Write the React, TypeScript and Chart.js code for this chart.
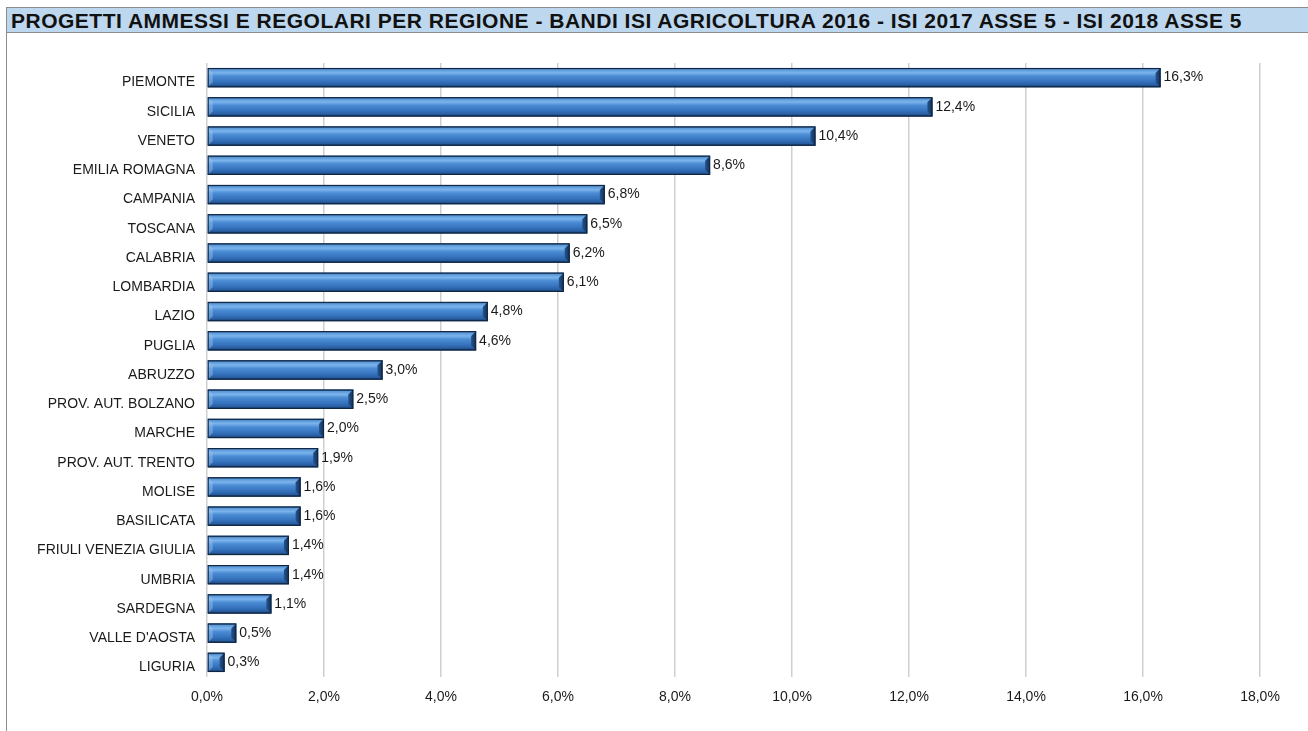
import React, { useEffect, useRef } from "react";
import { Chart, registerables } from "chart.js";

Chart.register(...registerables);

const chartTitle =
  "PROGETTI AMMESSI E REGOLARI PER REGIONE - BANDI ISI AGRICOLTURA 2016 - ISI 2017 ASSE 5 - ISI 2018 ASSE 5";

const regions = [
  "PIEMONTE",
  "SICILIA",
  "VENETO",
  "EMILIA ROMAGNA",
  "CAMPANIA",
  "TOSCANA",
  "CALABRIA",
  "LOMBARDIA",
  "LAZIO",
  "PUGLIA",
  "ABRUZZO",
  "PROV. AUT. BOLZANO",
  "MARCHE",
  "PROV. AUT. TRENTO",
  "MOLISE",
  "BASILICATA",
  "FRIULI VENEZIA GIULIA",
  "UMBRIA",
  "SARDEGNA",
  "VALLE D'AOSTA",
  "LIGURIA",
];

const shares = [
  16.3, 12.4, 10.4, 8.6, 6.8, 6.5, 6.2, 6.1, 4.8, 4.6, 3.0, 2.5, 2.0, 1.9, 1.6,
  1.6, 1.4, 1.4, 1.1, 0.5, 0.3,
];

const axisMin = 0;
const axisMax = 18;
const axisStep = 2;

const FONT = "'Liberation Sans', Arial, sans-serif";
const fmt = (v: number) => v.toFixed(1).replace(".", ",") + "%";

const bevelBars = {
  id: "bevelBars",
  afterDatasetsDraw(chart: any) {
    const ctx = chart.ctx;
    const meta = chart.getDatasetMeta(0);
    meta.data.forEach((bar: any) => {
      const { x, y, base, height } = bar.getProps(["x", "y", "base", "height"], true);
      const left = Math.min(x, base);
      const right = Math.max(x, base);
      const top = y - height / 2;
      const bottom = y + height / 2;
      const w = right - left;
      const bev = Math.min(5, w / 2, height / 3);
      ctx.save();
      const g = ctx.createLinearGradient(0, top, 0, bottom);
      g.addColorStop(0, "#1e4370");
      g.addColorStop(0.1, "#5c9ada");
      g.addColorStop(0.25, "#7cb4ec");
      g.addColorStop(0.42, "#4b8cd4");
      g.addColorStop(0.7, "#3673be");
      g.addColorStop(0.88, "#285ea2");
      g.addColorStop(1, "#122d50");
      ctx.fillStyle = g;
      ctx.fillRect(left, top, w, height);
      // left facet (lighter)
      ctx.fillStyle = "rgba(150,200,245,0.45)";
      ctx.beginPath();
      ctx.moveTo(left, top);
      ctx.lineTo(left + bev, top + bev);
      ctx.lineTo(left + bev, bottom - bev);
      ctx.lineTo(left, bottom);
      ctx.closePath();
      ctx.fill();
      // right facet (dark)
      const rg = ctx.createLinearGradient(right - bev, 0, right, 0);
      rg.addColorStop(0, "#24548f");
      rg.addColorStop(1, "#142f52");
      ctx.fillStyle = rg;
      ctx.beginPath();
      ctx.moveTo(right, top);
      ctx.lineTo(right - bev, top + bev);
      ctx.lineTo(right - bev, bottom - bev);
      ctx.lineTo(right, bottom);
      ctx.closePath();
      ctx.fill();
      // outline
      ctx.strokeStyle = "#10253f";
      ctx.lineWidth = 1;
      ctx.strokeRect(left + 0.5, top + 0.5, w - 1, height - 1);
      ctx.restore();
    });
  },
};

const barLabels = {
  id: "barLabels",
  afterDatasetsDraw(chart: any) {
    const ctx = chart.ctx;
    const meta = chart.getDatasetMeta(0);
    const data = chart.data.datasets[0].data as number[];
    ctx.save();
    ctx.font = `14px ${FONT}`;
    ctx.fillStyle = "#1a1a1a";
    ctx.textAlign = "left";
    ctx.textBaseline = "middle";
    meta.data.forEach((bar: any, i: number) => {
      const { x, y } = bar.getProps(["x", "y"], true);
      ctx.fillText(fmt(data[i]), x + 3, y);
    });
    ctx.restore();
  },
};

export default function App() {
  const ref = useRef<HTMLCanvasElement | null>(null);

  useEffect(() => {
    if (!ref.current) return;
    const chart = new Chart(ref.current, {
      type: "bar",
      data: {
        labels: regions,
        datasets: [
          {
            data: shares,
            backgroundColor: "#3673be",
            barPercentage: 0.66,
            categoryPercentage: 1,
          },
        ],
      },
      options: {
        indexAxis: "y",
        responsive: false,
        animation: false,
        devicePixelRatio: 1,
        layout: { padding: { top: 23, right: 48, bottom: 0, left: 0 } },
        plugins: {
          legend: { display: false },
          tooltip: { enabled: false },
          title: { display: false },
        },
        scales: {
          x: {
            min: axisMin,
            max: axisMax,
            border: { display: false },
            grid: {
              color: "#cfcfcf",
              lineWidth: 1.5,
              drawTicks: false,
            },
            ticks: {
              stepSize: axisStep,
              padding: 12,
              color: "#1a1a1a",
              font: { family: FONT, size: 14 },
              callback: (v: any) => fmt(Number(v)),
              maxRotation: 0,
            },
            afterFit: (scale: any) => {
              scale.height = 54;
            },
          },
          y: {
            border: { display: false },
            grid: { display: false, drawTicks: false },
            ticks: {
              padding: 12,
              labelOffset: 5,
              color: "#1a1a1a",
              font: { family: FONT, size: 14 },
              autoSkip: false,
            },
            afterFit: (scale: any) => {
              scale.width = 207;
            },
          },
        },
      },
      plugins: [bevelBars, barLabels],
    });
    return () => chart.destroy();
  }, []);

  return (
    <div
      style={{
        position: "fixed",
        left: 0,
        top: 0,
        width: 1308,
        height: 731,
        background: "#ffffff",
        overflow: "hidden",
      }}
    >
      <div
        style={{
          position: "absolute",
          left: 6,
          top: 33,
          bottom: -2,
          width: 1400,
          borderLeft: "1px solid #8c8c8c",
        }}
      />
      <canvas
        ref={ref}
        width={1308}
        height={691}
        style={{ position: "absolute", left: 0, top: 40, width: 1308, height: 691 }}
      />
      <div
        style={{
          position: "absolute",
          left: 6,
          top: 7,
          width: 1320,
          height: 26,
          background: "#bdd7ee",
          border: "1px solid #8c8c8c",
          boxSizing: "border-box",
          fontFamily: FONT,
          fontWeight: "bold",
          fontSize: 21,
          letterSpacing: 0.5,
          lineHeight: "25px",
          color: "#111111",
          paddingLeft: 4,
          whiteSpace: "nowrap",
        }}
      >
        {chartTitle}
      </div>
    </div>
  );
}
